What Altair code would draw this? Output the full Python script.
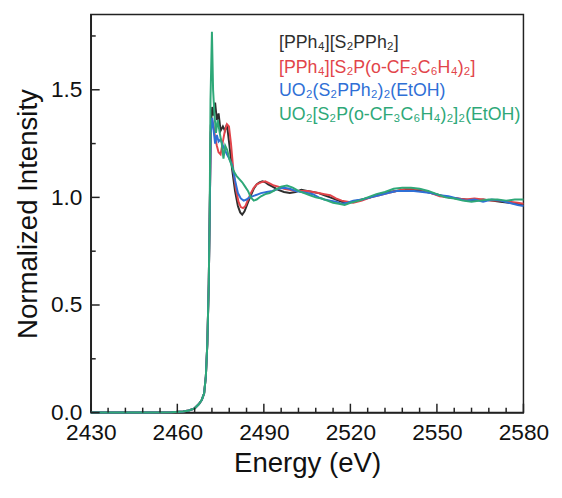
import altair as alt
import pandas as pd

# ---------------- data ----------------
series_names = [
    "[PPh₄][S₂PPh₂]",
    "[PPh₄][S₂P(o-CF₃C₆H₄)₂]",
    "UO₂(S₂PPh₂)₂(EtOH)",
    "UO₂[S₂P(o-CF₃C₆H₄)₂]₂(EtOH)",
]
series_colors = ["#2e2e2e", "#e2444a", "#2f6fd6", "#2ea878"]

# shared pre-edge / rising edge
edge_energy = [2430, 2440, 2450, 2458, 2462, 2464, 2466, 2467.5, 2468.5, 2469.3, 2469.9, 2470.4, 2470.9, 2471.2]
edge_int = [0.0, 0.0, 0.0, 0.002, 0.005, 0.01, 0.02, 0.04, 0.06, 0.09, 0.17, 0.32, 0.6, 0.9]

black_energy = [2471.6, 2472.1, 2472.6, 2473.1, 2473.7, 2474.3, 2475, 2475.8, 2476.5, 2477.2, 2478, 2479,
                2480, 2481, 2481.8, 2482.5, 2483.3, 2484.3, 2485.5, 2486.5, 2487.5, 2488.5, 2489.5, 2490.5,
                2491.5, 2493, 2495, 2497, 2499, 2501, 2503, 2505, 2507, 2509, 2511, 2513, 2515, 2517, 2519,
                2521, 2524, 2527, 2530, 2533, 2536, 2539, 2542, 2545, 2548, 2551, 2554, 2557, 2560, 2563,
                2566, 2569, 2572, 2575, 2578, 2580]
black_int = [1.33, 1.42, 1.38, 1.44, 1.36, 1.39, 1.31, 1.33, 1.31, 1.34, 1.25, 1.13,
             1.03, 0.96, 0.93, 0.92, 0.935, 0.97, 1.01, 1.04, 1.06, 1.07, 1.075, 1.07,
             1.06, 1.05, 1.035, 1.025, 1.02, 1.025, 1.035, 1.03, 1.025, 1.02, 1.01, 1.0, 0.99, 0.98, 0.975,
             0.98, 0.99, 1.0, 1.015, 1.025, 1.03, 1.035, 1.035, 1.03, 1.02, 1.01, 1.0, 0.995, 0.99, 0.985,
             0.99, 0.985, 0.98, 0.975, 0.97, 0.965]

red_energy = [2471.6, 2472.1, 2472.6, 2473.1, 2473.7, 2474.3, 2475, 2475.8, 2476.5, 2477.2, 2477.9, 2478.6,
              2479.4, 2480.3, 2481.2, 2482, 2482.8, 2483.6, 2484.5, 2485.5, 2486.5, 2487.5, 2489, 2490.5,
              2492, 2493.5, 2495, 2497, 2499, 2501, 2503, 2505, 2507, 2509, 2511, 2513, 2515, 2517, 2519,
              2521, 2524, 2527, 2530, 2533, 2536, 2539, 2542, 2545, 2548, 2551, 2554, 2557, 2560, 2563,
              2566, 2569, 2572, 2575, 2578, 2580]
red_int = [1.3, 1.36, 1.33, 1.28, 1.24, 1.21, 1.2, 1.26, 1.31, 1.34, 1.33, 1.25,
           1.13, 1.04, 0.98, 0.955, 0.95, 0.96, 0.99, 1.02, 1.045, 1.06, 1.07, 1.075,
           1.065, 1.055, 1.05, 1.04, 1.035, 1.03, 1.03, 1.03, 1.025, 1.02, 1.015, 1.01, 0.995, 0.985, 0.98,
           0.975, 0.985, 1.0, 1.01, 1.02, 1.03, 1.04, 1.04, 1.035, 1.02, 1.005, 1.0, 0.995, 0.99, 0.995,
           0.99, 0.985, 0.985, 0.98, 0.975, 0.97]

blue_energy = [2471.6, 2472.1, 2472.6, 2473.1, 2473.7, 2474.3, 2475, 2475.8, 2476.5, 2477.2, 2478, 2479,
               2480, 2481, 2482, 2483, 2484, 2485, 2486, 2487.5, 2489, 2491, 2493, 2495, 2497,
               2499, 2501, 2503, 2505, 2507, 2509, 2511, 2513, 2515, 2517, 2519, 2521, 2524, 2527, 2530,
               2533, 2536, 2539, 2542, 2545, 2548, 2551, 2554, 2557, 2560, 2563, 2566, 2569, 2572, 2575,
               2578, 2580]
blue_int = [1.3, 1.37, 1.31, 1.25, 1.29, 1.26, 1.27, 1.24, 1.22, 1.2, 1.18, 1.15,
            1.08, 1.02, 0.995, 0.985, 0.99, 1.0, 1.005, 1.012, 1.02, 1.025, 1.03, 1.04, 1.045,
            1.04, 1.03, 1.025, 1.02, 1.015, 1.0, 0.99, 0.985, 0.98, 0.97, 0.975, 0.985, 0.99, 1.0, 1.01,
            1.02, 1.03, 1.03, 1.03, 1.025, 1.02, 1.01, 1.005, 0.995, 0.985, 0.99, 0.98, 0.99, 0.985, 0.975,
            0.965, 0.96]

green_energy = [2471.5, 2472.0, 2472.4, 2472.9, 2473.4, 2474, 2474.7, 2475.4, 2476, 2476.6, 2477.3, 2478,
                2478.8, 2479.6, 2480.5, 2481.5, 2482.5, 2483.5, 2484.5, 2485.5, 2486.5, 2487.5, 2489,
                2490.5, 2492, 2494, 2496, 2498, 2500, 2502, 2504, 2506, 2508, 2510, 2512, 2514, 2516, 2518,
                2520, 2523, 2526, 2529, 2532, 2535, 2538, 2541, 2544, 2547, 2550, 2553, 2556, 2559, 2562,
                2565, 2568, 2571, 2574, 2577, 2580]
green_int = [1.45, 1.77, 1.5, 1.38, 1.3, 1.36, 1.3, 1.25, 1.18, 1.24, 1.22, 1.18,
             1.15, 1.12, 1.1, 1.085, 1.07, 1.05, 1.03, 1.0, 0.985, 0.99, 1.005,
             1.015, 1.02, 1.035, 1.05, 1.055, 1.045, 1.03, 1.02, 1.01, 1.0, 0.995, 0.985, 0.975, 0.97, 0.965,
             0.975, 0.985, 1.0, 1.015, 1.025, 1.04, 1.045, 1.045, 1.04, 1.03, 1.015, 1.0, 0.995, 0.985, 0.98,
             0.985, 0.99, 0.99, 0.985, 0.99, 0.99]

x_major = [2430, 2460, 2490, 2520, 2550, 2580]
x_minor = [v for v in range(2430, 2581, 6) if v not in x_major]
y_major = [0.0, 0.5, 1.0, 1.5]
y_minor = [0.25, 0.75, 1.25, 1.75]

# ---------------- build ----------------
FONT = "Liberation Sans"
INK = "#222222"
X_DOM = [2430, 2580]
Y_DOM = [0, 1.85]
xs = alt.Scale(domain=X_DOM, nice=False, zero=False)
ys = alt.Scale(domain=Y_DOM, nice=False, zero=False)
W, H = 439, 404

series_E = [black_energy, red_energy, blue_energy, green_energy]
series_I = [black_int, red_int, blue_int, green_int]

rows = []
for name, e, v in zip(series_names, series_E, series_I):
    for ee, vv in zip(edge_energy + e, edge_int + v):
        rows.append({"E": ee, "I": vv, "s": name})
lines_df = pd.DataFrame(rows)

x_axis = alt.Axis(
    values=x_major, format="d", ticks=False, grid=False,
    labelPadding=9, labelFontSize=23, labelFont=FONT, labelColor="#111",
    title="Energy (eV)", titleFontSize=28, titleFont=FONT, titleFontWeight="normal",
    titleColor="#111", titlePadding=6, domainColor=INK, domainWidth=1.5, labelFlush=False)
y_axis = alt.Axis(
    values=y_major, format=".1f", ticks=False, grid=False,
    labelPadding=9, labelFontSize=23, labelFont=FONT, labelColor="#111",
    title="Normalized Intensity", titleFontSize=28, titleFont=FONT, titleFontWeight="normal",
    titleColor="#111", titlePadding=8, domainColor=INK, domainWidth=1.5, labelFlush=False)

lines = alt.Chart(lines_df).mark_line(strokeWidth=2).encode(
    x=alt.X("E:Q", scale=xs, axis=x_axis),
    y=alt.Y("I:Q", scale=ys, axis=y_axis),
    color=alt.Color("s:N", scale=alt.Scale(domain=series_names, range=series_colors), legend=None),
)

# inward-pointing tick marks drawn as short rules through the scales;
# tick length given in pixels and converted to data units
def px_to_y(px):
    return px / H * (Y_DOM[1] - Y_DOM[0])

def px_to_x(px):
    return px / W * (X_DOM[1] - X_DOM[0])

def xticks(vals, size):
    df = pd.DataFrame({"E": vals, "y0": Y_DOM[0], "y1": Y_DOM[0] + px_to_y(size)})
    return alt.Chart(df).mark_rule(color=INK, strokeWidth=1.5).encode(
        x=alt.X("E:Q", scale=xs), y=alt.Y("y0:Q", scale=ys), y2="y1:Q")

def yticks(vals, size):
    df = pd.DataFrame({"I": vals, "x0": X_DOM[0], "x1": X_DOM[0] + px_to_x(size)})
    return alt.Chart(df).mark_rule(color=INK, strokeWidth=1.5).encode(
        y=alt.Y("I:Q", scale=ys), x=alt.X("x0:Q", scale=xs), x2="x1:Q")

tick_layers = [xticks(x_major, 9), xticks(x_minor, 5), yticks(y_major, 9), yticks(y_minor, 5)]

legend_y = [29, 54, 78, 102]
legend_layers = []
for name, col, yy in zip(series_names, series_colors, legend_y):
    legend_layers.append(
        alt.Chart(pd.DataFrame({"t": [name]})).mark_text(
            align="left", baseline="middle", fontSize=18, font=FONT, color=col
        ).encode(x=alt.value(191), y=alt.value(yy), text="t:N")
    )

chart = alt.layer(lines, *tick_layers, *legend_layers).properties(
    width=W, height=H,
    autosize=alt.AutoSizeParams(type="none"),
    padding={"left": 84, "top": 3, "right": 31, "bottom": 76},
).configure_view(stroke=INK, strokeWidth=1.5)

chart.save("out.html", embed_options={"renderer": "svg", "actions": False})
